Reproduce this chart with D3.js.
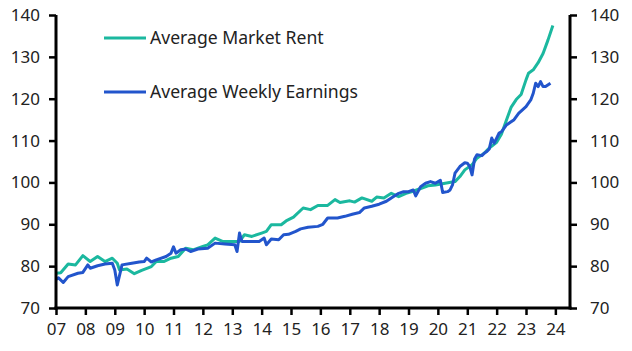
<!DOCTYPE html>
<html>
<head>
<meta charset="utf-8">
<script src="https://cdn.jsdelivr.net/npm/d3@7"></script>
<style>
  body { margin: 0; background: #fff; }
  svg { font-family: "Noto Sans", sans-serif; }
</style>
</head>
<body>
<div id="chart"></div>
<script>
// months since Jan 2007
var rentMonths = [0, 2, 5, 8, 11, 14, 17, 20, 23, 25, 26, 29, 32, 35, 39, 41, 44, 47, 50, 53, 56, 60, 62, 65, 68, 71, 75, 77, 80, 84, 86, 88, 92, 94, 97, 101, 104, 107, 111, 114, 116, 120, 122, 125, 129, 131, 134, 137, 140, 143, 146, 152, 155, 159, 163, 165, 167, 170, 172, 175, 177, 180, 182, 184, 186, 188, 190, 192, 193, 195, 197, 199, 201, 203];
var rentValues = [78.3, 78.4, 80.5, 80.3, 82.5, 81.1, 82.3, 81.1, 81.9, 80.7, 79.1, 79.3, 78.2, 79.0, 79.9, 81.1, 81.1, 81.9, 82.3, 84.3, 83.9, 84.7, 85.1, 86.7, 85.9, 85.9, 85.9, 87.5, 87.1, 87.9, 88.3, 89.9, 89.9, 90.8, 91.7, 93.9, 93.5, 94.5, 94.5, 95.9, 95.2, 95.6, 95.3, 96.3, 95.5, 96.5, 96.3, 97.4, 96.6, 97.4, 97.9, 99.2, 99.4, 99.8, 100.2, 101.4, 103.0, 104.2, 105.8, 107.0, 108.2, 109.6, 111.5, 114.8, 118.0, 119.8, 121.0, 124.5, 126.1, 126.9, 128.6, 130.8, 134.0, 137.5];

var aweMonths = [0, 1, 3, 5, 9, 11, 13, 14, 17, 20, 23, 24, 25, 27, 31, 34, 36, 37, 39, 41, 45, 47, 48, 49, 51, 53, 55, 58, 62, 65, 69, 73, 74, 75, 76, 79, 83, 85, 86, 88, 91, 93, 95, 98, 100, 103, 107, 109, 111, 115, 118, 121, 124, 126, 129, 132, 135, 137, 140, 142, 144, 146, 147, 149, 151, 153, 155, 157, 158, 160, 161, 162, 163, 165, 167, 168, 169, 170, 171, 172, 174, 175, 176, 177, 178, 179, 180, 181, 182, 184, 187, 189, 192, 194, 195, 196, 197, 198, 199, 200, 202];
var aweValues = [76.8, 77.2, 76.1, 77.5, 78.3, 78.5, 80.3, 79.5, 80.1, 80.5, 80.7, 79.1, 75.5, 80.3, 80.7, 81.0, 81.1, 81.9, 81.0, 81.5, 82.3, 83.1, 84.6, 83.1, 83.9, 84.1, 83.5, 84.1, 84.3, 85.5, 85.3, 85.1, 83.5, 87.9, 85.9, 85.9, 85.9, 86.7, 85.1, 86.5, 86.3, 87.5, 87.6, 88.3, 88.9, 89.3, 89.5, 90.0, 91.5, 91.5, 91.9, 92.4, 92.8, 93.9, 94.3, 94.8, 95.5, 96.3, 97.4, 97.8, 97.8, 98.2, 96.8, 99.0, 99.8, 100.2, 99.8, 100.5, 97.6, 97.8, 98.2, 99.4, 102.2, 103.8, 104.7, 104.6, 103.8, 101.8, 105.6, 106.6, 106.4, 107.0, 107.4, 108.0, 110.6, 109.4, 110.6, 111.8, 112.1, 113.7, 114.9, 116.5, 118.1, 119.7, 121.3, 123.7, 122.9, 124.1, 122.9, 122.9, 123.7];

var yearLabels = ["07", "08", "09", "10", "11", "12", "13", "14", "15", "16", "17", "18", "19", "20", "21", "22", "23", "24"];
var yTicks = [70, 80, 90, 100, 110, 120, 130, 140];
var seriesNames = ["Average Market Rent", "Average Weekly Earnings"];
var seriesColors = ["#1bb89f", "#2255cc"];

var width = 632, height = 351;
var margin = {top: 15, right: 62, bottom: 43, left: 56};
var innerW = width - margin.left - margin.right,
    innerH = height - margin.top - margin.bottom;

var svg = d3.select("#chart").append("svg")
    .attr("width", width)
    .attr("height", height);

var g = svg.append("g")
    .attr("transform", "translate(" + margin.left + "," + margin.top + ")");

function monthDate(m) {
    return new Date(2007, m, 1);
}

var x = d3.scaleTime()
    .domain([new Date(2007, 0, 1), new Date(2024, 6, 1)])
    .range([0, innerW]);

var y = d3.scaleLinear()
    .domain([70, 140])
    .range([innerH, 0]);

var line = d3.line()
    .x(function (d) { return x(monthDate(d[0])); })
    .y(function (d) { return y(d[1]); });

var rent = rentMonths.map(function (m, i) { return [m, rentValues[i]]; });
var awe = aweMonths.map(function (m, i) { return [m, aweValues[i]]; });

g.append("path")
    .datum(rent)
    .attr("fill", "none")
    .attr("stroke", seriesColors[0])
    .attr("stroke-width", 3)
    .attr("stroke-linejoin", "round")
    .attr("d", line);

g.append("path")
    .datum(awe)
    .attr("fill", "none")
    .attr("stroke", seriesColors[1])
    .attr("stroke-width", 3)
    .attr("stroke-linejoin", "round")
    .attr("d", line);

// axes
var yearDates = yearLabels.map(function (s, i) { return new Date(2007 + i, 0, 1); });

var xAxis = d3.axisBottom(x)
    .tickValues(yearDates)
    .tickSize(7)
    .tickPadding(8)
    .tickFormat(function (d, i) { return yearLabels[i]; });

var yLeft = d3.axisLeft(y).tickValues(yTicks).tickSize(7).tickPadding(9);
var yRight = d3.axisRight(y).tickValues(yTicks).tickSize(7).tickPadding(13);

var xg = g.append("g").attr("transform", "translate(0," + innerH + ")").call(xAxis);
var lg = g.append("g").call(yLeft);
var rg = g.append("g").attr("transform", "translate(" + innerW + ",0)").call(yRight);

[xg, lg, rg].forEach(function (a) {
    a.select(".domain").remove();
    a.selectAll(".tick line").attr("stroke", "#000").attr("stroke-width", 2.5);
    a.selectAll(".tick text")
        .attr("fill", "#222")
        .style("font-size", "17px")
        .style("font-family", "'Noto Sans', sans-serif");
});

// axis lines drawn thick
g.append("line").attr("x1", 0).attr("x2", 0).attr("y1", 0).attr("y2", innerH + 1.5)
    .attr("stroke", "#000").attr("stroke-width", 3);
g.append("line").attr("x1", innerW).attr("x2", innerW).attr("y1", 0).attr("y2", innerH + 1.5)
    .attr("stroke", "#000").attr("stroke-width", 3);
g.append("line").attr("x1", -1.5).attr("x2", innerW + 1.5).attr("y1", innerH).attr("y2", innerH)
    .attr("stroke", "#000").attr("stroke-width", 3);

// legend
var legend = svg.append("g");
seriesNames.forEach(function (name, i) {
    var ly = 38 + i * 54;
    legend.append("line")
        .attr("x1", 104).attr("x2", 146)
        .attr("y1", ly).attr("y2", ly)
        .attr("stroke", seriesColors[i])
        .attr("stroke-width", 3);
    legend.append("text")
        .attr("x", 150).attr("y", ly)
        .attr("dy", "0.35em")
        .attr("fill", "#222")
        .style("font-size", "17.6px")
        .text(name);
});
</script>
</body>
</html>
